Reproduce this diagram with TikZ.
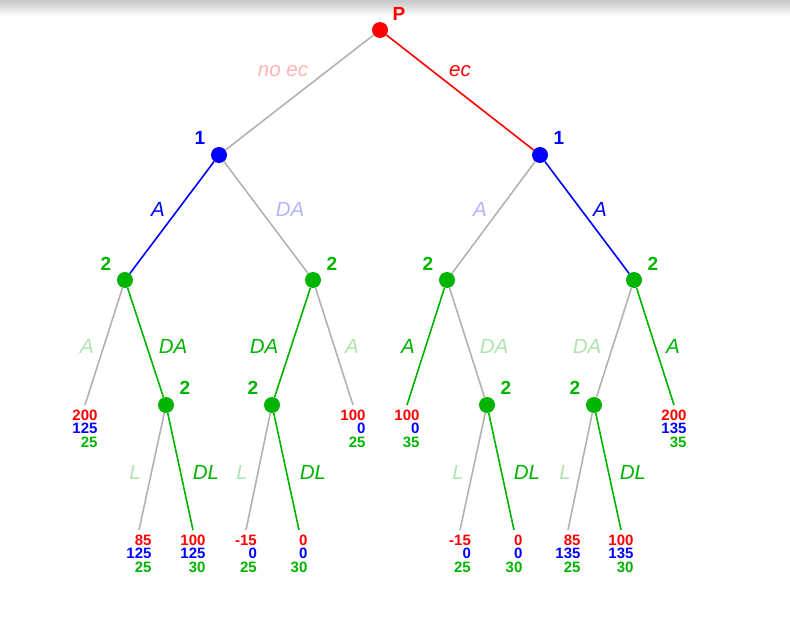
\documentclass[tikz,border=0pt]{standalone}
\usepackage{fontspec}
\setmainfont{Liberation Sans}
\definecolor{cred}{RGB}{255,0,0}
\definecolor{cblue}{RGB}{0,0,255}
\definecolor{cgreen}{RGB}{0,180,0}
\definecolor{lred}{RGB}{255,180,180}
\definecolor{lblue}{RGB}{180,180,255}
\definecolor{lgreen}{RGB}{175,228,175}
\definecolor{cgray}{RGB}{178,178,178}
\begin{document}
\begin{tikzpicture}[x=1pt,y=-1pt,
  dot/.style={circle,fill=#1,minimum size=16pt,inner sep=0pt},
  br/.style={line width=1.6pt,#1},
  pl/.style={font=\fontsize{19}{19}\selectfont\bfseries,text=#1,inner sep=0pt},
  el/.style={font=\fontsize{20.5}{20.5}\selectfont\itshape,text=#1,inner sep=0pt},
  pay/.style={font=\fontsize{15}{13.8}\selectfont\bfseries,align=right,anchor=north,inner sep=0pt,yshift=-4.5pt}]
\useasboundingbox (0,0) rectangle (790,618);
\shade[top color=black!22,bottom color=white] (0,0) rectangle (790,16);
% decision nodes
\node[dot=cred] (P) at (380,30) {};
\node[dot=cblue] (a1) at (219,155) {};
\node[dot=cblue] (b1) at (540,155) {};
\node[dot=cgreen] (a2) at (125,280) {};
\node[dot=cgreen] (b2) at (313,280) {};
\node[dot=cgreen] (c2) at (447,280) {};
\node[dot=cgreen] (d2) at (634,280) {};
\node[dot=cgreen] (e2) at (166,405) {};
\node[dot=cgreen] (f2) at (272,405) {};
\node[dot=cgreen] (g2) at (487,405) {};
\node[dot=cgreen] (h2) at (594,405) {};
% player labels
\node[pl=cred] (lP) at (399,14) {P};
\node[pl=cblue] (la1) at (200,138) {1};
\node[pl=cblue] (lb1) at (559,138) {1};
\node[pl=cgreen] (la2) at (106,264) {2};
\node[pl=cgreen] (lb2) at (332,264) {2};
\node[pl=cgreen] (lc2) at (428,264) {2};
\node[pl=cgreen] (ld2) at (653,264) {2};
\node[pl=cgreen] (le2) at (185,388) {2};
\node[pl=cgreen] (lf2) at (253,388) {2};
\node[pl=cgreen] (lg2) at (506,388) {2};
\node[pl=cgreen] (lh2) at (575,388) {2};
% leaves
\coordinate (ta) at (85,405);
\coordinate (tb) at (353,405);
\coordinate (tc) at (407,405);
\coordinate (td) at (674,405);
\coordinate (e1) at (139,530);
\coordinate (e3) at (193,530);
\coordinate (f1) at (246,530);
\coordinate (f3) at (299,530);
\coordinate (g1) at (460,530);
\coordinate (g3) at (514,530);
\coordinate (h1) at (568,530);
\coordinate (h3) at (621,530);
% branches
\draw[br=cgray] (P) -- (a1);
\draw[br=cred] (P) -- (b1);
\draw[br=cblue] (a1) -- (a2);
\draw[br=cgray] (a1) -- (b2);
\draw[br=cgray] (b1) -- (c2);
\draw[br=cblue] (b1) -- (d2);
\draw[br=cgray] (a2) -- (ta);
\draw[br=cgreen] (a2) -- (e2);
\draw[br=cgreen] (b2) -- (f2);
\draw[br=cgray] (b2) -- (tb);
\draw[br=cgreen] (c2) -- (tc);
\draw[br=cgray] (c2) -- (g2);
\draw[br=cgray] (d2) -- (h2);
\draw[br=cgreen] (d2) -- (td);
\draw[br=cgray] (e2) -- (e1);
\draw[br=cgreen] (e2) -- (e3);
\draw[br=cgray] (f2) -- (f1);
\draw[br=cgreen] (f2) -- (f3);
\draw[br=cgray] (g2) -- (g1);
\draw[br=cgreen] (g2) -- (g3);
\draw[br=cgray] (h2) -- (h1);
\draw[br=cgreen] (h2) -- (h3);
% branch labels
\node[el=lred] (x1) at (283,71) {no ec};
\node[el=cred] (x2) at (460,71) {ec};
\node[el=cblue] (x3) at (158,209) {A};
\node[el=lblue] (x4) at (290,209) {DA};
\node[el=lblue] (x5) at (480,209) {A};
\node[el=cblue] (x6) at (600,209) {A};
\node[el=lgreen] (x7) at (87,346) {A};
\node[el=cgreen] (x8) at (173,346) {DA};
\node[el=cgreen] (x9) at (264,346) {DA};
\node[el=lgreen] (x10) at (352,346) {A};
\node[el=cgreen] (x11) at (408,346) {A};
\node[el=lgreen] (x12) at (494,346) {DA};
\node[el=lgreen] (x13) at (587,346) {DA};
\node[el=cgreen] (x14) at (673,346) {A};
\node[el=lgreen] (y1) at (135,472) {L};
\node[el=cgreen] (y2) at (206,472) {DL};
\node[el=lgreen] (y3) at (242,472) {L};
\node[el=cgreen] (y4) at (313,472) {DL};
\node[el=lgreen] (y5) at (458,472) {L};
\node[el=cgreen] (y6) at (527,472) {DL};
\node[el=lgreen] (y7) at (565,472) {L};
\node[el=cgreen] (y8) at (633,472) {DL};
% payoffs
\node[pay] (pa) at (ta) {\textcolor{cred}{200}\\\textcolor{cblue}{125}\\\textcolor{cgreen}{25}};
\node[pay] (pb) at (tb) {\textcolor{cred}{100}\\\textcolor{cblue}{0}\\\textcolor{cgreen}{25}};
\node[pay] (pc) at (tc) {\textcolor{cred}{100}\\\textcolor{cblue}{0}\\\textcolor{cgreen}{35}};
\node[pay] (pd) at (td) {\textcolor{cred}{200}\\\textcolor{cblue}{135}\\\textcolor{cgreen}{35}};
\node[pay] (pe1) at (e1) {\textcolor{cred}{85}\\\textcolor{cblue}{125}\\\textcolor{cgreen}{25}};
\node[pay] (pe3) at (e3) {\textcolor{cred}{100}\\\textcolor{cblue}{125}\\\textcolor{cgreen}{30}};
\node[pay] (pf1) at (f1) {\textcolor{cred}{-15}\\\textcolor{cblue}{0}\\\textcolor{cgreen}{25}};
\node[pay] (pf3) at (f3) {\textcolor{cred}{0}\\\textcolor{cblue}{0}\\\textcolor{cgreen}{30}};
\node[pay] (pg1) at (g1) {\textcolor{cred}{-15}\\\textcolor{cblue}{0}\\\textcolor{cgreen}{25}};
\node[pay] (pg3) at (g3) {\textcolor{cred}{0}\\\textcolor{cblue}{0}\\\textcolor{cgreen}{30}};
\node[pay] (ph1) at (h1) {\textcolor{cred}{85}\\\textcolor{cblue}{135}\\\textcolor{cgreen}{25}};
\node[pay] (ph3) at (h3) {\textcolor{cred}{100}\\\textcolor{cblue}{135}\\\textcolor{cgreen}{30}};
\end{tikzpicture}
\end{document}
